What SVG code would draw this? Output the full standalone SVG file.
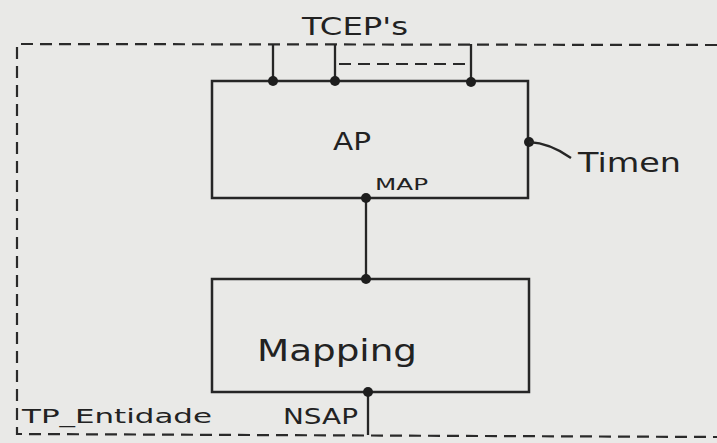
<svg xmlns="http://www.w3.org/2000/svg" width="717" height="443" viewBox="0 0 717 443">
  <style>
    .box { fill: none; stroke: #262626; stroke-width: 2.5; }
    .ln { fill: none; stroke: #262626; stroke-width: 2.3; }
    .dash { fill: none; stroke: #2a2a2a; stroke-width: 2.2; stroke-dasharray: 12 7; }
    .dot { fill: #1e1e1e; }
    .t { font-family: "DejaVu Sans", "Liberation Sans", sans-serif; fill: #222; }
  </style>
  <rect width="717" height="443" fill="#e9e9e7"/>
  <g id="boundary">
    <path class="dash" d="M717 45 L17 44 L17 434 L717 437"/>
    <text class="t" x="22" y="423" font-size="19" textLength="190" lengthAdjust="spacingAndGlyphs">TP_Entidade</text>
  </g>
  <g id="ap">
    <rect class="box" x="212" y="81" width="316" height="117"/>
    <text class="t" x="333" y="150" font-size="25" textLength="38" lengthAdjust="spacingAndGlyphs">AP</text>
  </g>
  <g id="mapping">
    <rect class="box" x="212" y="279" width="317" height="113"/>
    <text class="t" x="257" y="361" font-size="30" textLength="160" lengthAdjust="spacingAndGlyphs">Mapping</text>
  </g>
  <g id="tceps">
    <text class="t" x="302" y="35" font-size="24" textLength="106" lengthAdjust="spacingAndGlyphs">TCEP's</text>
  </g>
  <g id="timer">
    <text class="t" x="578" y="172" font-size="27" textLength="103" lengthAdjust="spacingAndGlyphs">Timen</text>
  </g>
  <g id="connectors">
    <line class="ln" x1="273" y1="44" x2="273" y2="81"/>
    <line class="ln" x1="335" y1="44" x2="335" y2="81"/>
    <line class="ln" x1="471" y1="44" x2="471" y2="81"/>
    <line class="dash" x1="339" y1="64" x2="466" y2="64" stroke-dasharray="10 7"/>
    <circle class="dot" cx="273" cy="81" r="5"/>
    <circle class="dot" cx="335" cy="81" r="5"/>
    <circle class="dot" cx="471" cy="82" r="5"/>
    <circle class="dot" cx="529" cy="142" r="5"/>
    <path class="ln" d="M529 142 Q550 143 571 158"/>
    <line class="ln" x1="366" y1="198" x2="366" y2="279"/>
    <circle class="dot" cx="366" cy="198" r="5"/>
    <circle class="dot" cx="366" cy="279" r="5"/>
    <text class="t" x="375" y="190" font-size="15" textLength="53" lengthAdjust="spacingAndGlyphs">MAP</text>
    <line class="ln" x1="368" y1="392" x2="368" y2="435"/>
    <circle class="dot" cx="368" cy="392" r="5"/>
    <text class="t" x="283" y="424" font-size="21" textLength="75" lengthAdjust="spacingAndGlyphs">NSAP</text>
  </g>
</svg>
